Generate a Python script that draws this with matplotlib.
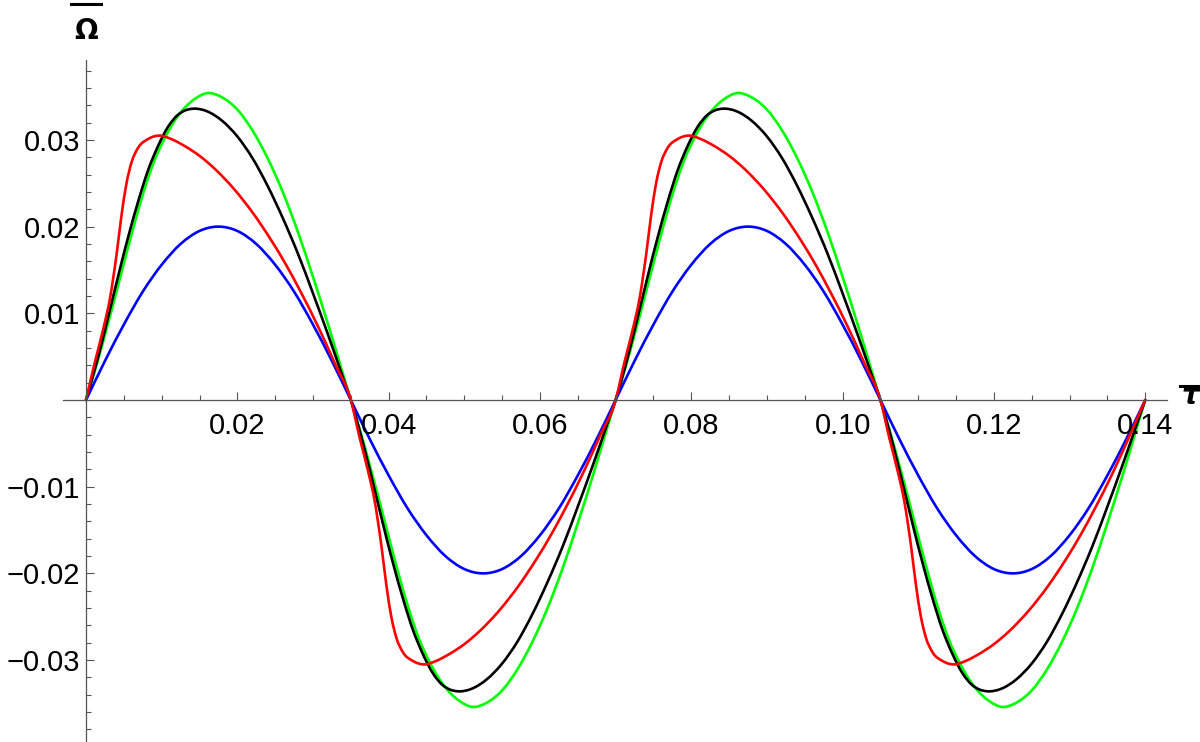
import numpy as np
import matplotlib
matplotlib.use("Agg")
import matplotlib.pyplot as plt
from matplotlib.lines import Line2D
from matplotlib.path import Path
from matplotlib.patches import PathPatch

# ---------------- data (one half period) ----------------
half_period = 0.035

green_t = [0, 0.00125, 0.0025, 0.00382, 0.00513, 0.00645, 0.00776, 0.00908, 0.0104,
           0.01171, 0.01303, 0.0145, 0.016, 0.018, 0.020, 0.022, 0.024, 0.026,
           0.028, 0.030, 0.032, 0.034, 0.035]
green_y = [0, 0.0036, 0.0075, 0.0118, 0.0162, 0.0205, 0.0244, 0.0277, 0.0302,
           0.0322, 0.0337, 0.0348, 0.0354, 0.0349, 0.0335, 0.0311, 0.0279, 0.0240,
           0.0194, 0.0142, 0.0087, 0.0029, 0]

black_t = [0, 0.00162, 0.00316, 0.00425, 0.00557, 0.00689, 0.0082, 0.00952, 0.01083,
           0.01215, 0.0131, 0.0141, 0.016, 0.018, 0.020, 0.022, 0.024, 0.026,
           0.028, 0.030, 0.032, 0.034, 0.035]
black_y = [0, 0.0050, 0.0104, 0.0143, 0.0188, 0.0229, 0.0265, 0.0293, 0.0315,
           0.0329, 0.0334, 0.0336, 0.0333, 0.0322, 0.0304, 0.0279, 0.0247, 0.0210,
           0.0169, 0.0123, 0.0075, 0.0025, 0]

red_t = [0, 0.00118, 0.00228, 0.00316, 0.00404, 0.00469, 0.00535, 0.00601, 0.00689,
         0.0082, 0.00974, 0.01127, 0.01303, 0.0151, 0.0171, 0.0195, 0.0222, 0.0245,
         0.0265, 0.0283, 0.0306, 0.0329, 0.035]
red_y = [0, 0.0044, 0.0082, 0.0117, 0.0168, 0.0213, 0.0250, 0.0274, 0.0291,
         0.0301, 0.0305, 0.0301, 0.0293, 0.0281, 0.0266, 0.0244, 0.0214, 0.0184,
         0.0155, 0.0126, 0.0086, 0.0042, 0]

blue_t = [0, 0.0025, 0.005, 0.0075, 0.01, 0.0125, 0.015, 0.0175, 0.02, 0.0225,
          0.025, 0.0275, 0.03, 0.0325, 0.035]
blue_y = [0, 0.0045, 0.0087, 0.0125, 0.0156, 0.0180, 0.0195, 0.0200, 0.0195,
          0.0180, 0.0156, 0.0125, 0.0087, 0.0045, 0]

x_major = [0.02, 0.04, 0.06, 0.08, 0.10, 0.12, 0.14]
x_labels = ["0.02", "0.04", "0.06", "0.08", "0.10", "0.12", "0.14"]
y_major = [-0.03, -0.02, -0.01, 0.01, 0.02, 0.03]
y_labels = ["\u22120.03", "\u22120.02", "\u22120.01", "0.01", "0.02", "0.03"]


def full_curve(t, y, n_half=4):
    """Repeat the read half period (the curve changes sign every half period)."""
    t = np.asarray(t, float)
    y = np.asarray(y, float)
    ts, ys = [t], [y]
    for k in range(1, n_half):
        sign = -1 if k % 2 else 1
        ts.append(t[1:] + k * half_period)
        ys.append(sign * y[1:])
    return np.concatenate(ts), np.concatenate(ys)


def smooth_path(x, y):
    """Piecewise cubic Bezier path through the data points (drawn by matplotlib)."""
    h = np.diff(x)
    d = np.diff(y) / h
    m = np.empty_like(y)
    m[0] = d[0]
    m[-1] = d[-1]
    m[1:-1] = (h[1:] * d[:-1] + h[:-1] * d[1:]) / (h[:-1] + h[1:])
    verts = [(x[0], y[0])]
    codes = [Path.MOVETO]
    for i in range(len(h)):
        verts += [(x[i] + h[i] / 3, y[i] + m[i] * h[i] / 3),
                  (x[i + 1] - h[i] / 3, y[i + 1] - m[i + 1] * h[i] / 3),
                  (x[i + 1], y[i + 1])]
        codes += [Path.CURVE4] * 3
    return Path(verts, codes)


plt.rcParams['font.family'] = ['Liberation Sans', 'DejaVu Sans']

W, H = 1200, 742
fig = plt.figure(figsize=(W / 100, H / 100), dpi=100)
ax = fig.add_axes([0, 0, 1, 1])

# pixel mapping from the reference: origin at (86, 400); 0.02 per 151.3 px; 0.01 per 86.7 px
ax.set_xlim(-0.01137, 0.14724)
ax.set_ylim(-0.03945, 0.04614)

lw = 1.9
for (t, y, c) in [(green_t, green_y, (0, 1, 0)),
                  (black_t, black_y, (0, 0, 0)),
                  (blue_t, blue_y, (0, 0, 1)),
                  (red_t, red_y, (1, 0, 0))]:
    tt, yy = full_curve(t, y)
    ax.add_patch(PathPatch(smooth_path(tt, yy), fill=False, edgecolor=c, lw=lw,
                           capstyle='round', joinstyle='round'))

for s in ['top', 'right']:
    ax.spines[s].set_visible(False)
axis_col = '#555555'
ax.spines['left'].set_position(('data', 0))
ax.spines['bottom'].set_position(('data', 0))
ax.spines['left'].set_bounds(-0.0395, 0.0392)
ax.spines['bottom'].set_bounds(-0.003, 0.1429)
for s in ['left', 'bottom']:
    ax.spines[s].set_color(axis_col)
    ax.spines[s].set_linewidth(0.9)

ax.set_xticks(x_major)
ax.set_xticklabels(x_labels)
ax.set_xticks(np.round(np.arange(0.005, 0.1401, 0.005), 4), minor=True)
ax.set_yticks(y_major)
ax.set_yticklabels(y_labels)
ax.set_yticks(np.round(np.arange(-0.038, 0.0381, 0.002), 4), minor=True)

ax.tick_params(axis='both', which='both', direction='in', color=axis_col,
               width=0.8, labelsize=21, labelcolor='black')
ax.tick_params(axis='both', which='major', length=5.8)
ax.tick_params(axis='both', which='minor', length=3.6)
ax.tick_params(axis='x', which='major', pad=8.5)
ax.tick_params(axis='y', which='major', pad=4.3)
ax.patch.set_visible(False)

# axis labels with overbars
fig.text(86 / W, 1 - 31 / H, "\u03A9", ha='center', va='center', fontsize=20,
         fontweight='bold', family=['DejaVu Sans'])
fig.add_artist(Line2D([71 / W, 101 / W], [1 - 3.5 / H, 1 - 3.5 / H], color='black', lw=2.2))
fig.text(1190 / W, 1 - 396 / H, "\u03C4", ha='center', va='center', fontsize=20,
         fontweight='bold', style='italic', family=['DejaVu Sans'])
fig.add_artist(Line2D([1180 / W, 1200 / W], [1 - 385.5 / H, 1 - 385.5 / H], color='black', lw=2.2))

fig.savefig("out.png", dpi=100)
